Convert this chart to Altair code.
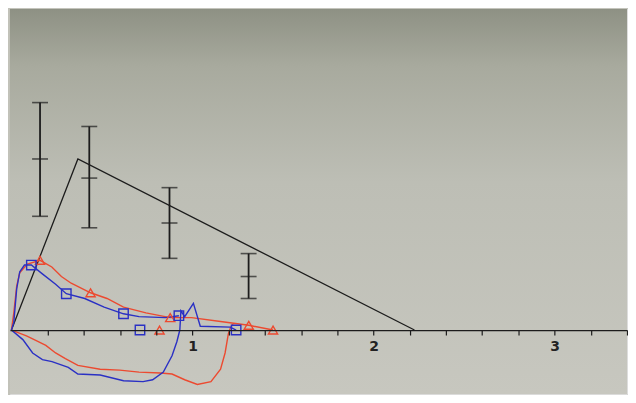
import altair as alt
import pandas as pd

# ---- data ----
# black model line
black_x = [0.0, 0.367, 2.226]
black_y = [0.0, 1.79, 0.0]

# error bars (x, low, mean, high)
eb_x = [0.158, 0.43, 0.873, 1.31]
eb_lo = [1.19, 1.07, 0.75, 0.33]
eb_mid = [1.79, 1.59, 1.12, 0.56]
eb_hi = [2.38, 2.13, 1.49, 0.80]

# red curve (loop)
red_x = [1.445, 1.311, 1.155, 0.995, 0.877, 0.743, 0.619, 0.528, 0.437, 0.33,
         0.276, 0.223, 0.158, 0.088, 0.046, 0.029, 0.013, 0.0,
         0.083, 0.137, 0.19, 0.244, 0.298, 0.367, 0.49, 0.598, 0.705, 0.823,
         0.887, 0.957, 1.027, 1.102, 1.155, 1.18, 1.198, 1.209, 1.225]
red_y = [0.0, 0.05, 0.09, 0.13, 0.13, 0.18, 0.24, 0.33, 0.39, 0.49,
         0.56, 0.66, 0.73, 0.69, 0.60, 0.46, 0.18, 0.0,
         -0.06, -0.11, -0.16, -0.24, -0.30, -0.37, -0.41, -0.42, -0.44, -0.45,
         -0.46, -0.52, -0.57, -0.54, -0.41, -0.24, -0.04, 0.02, 0.07]
red_mx = [0.158, 0.437, 0.818, 0.877, 1.311, 1.445]
red_my = [0.73, 0.39, 0.0, 0.13, 0.05, 0.0]

# blue curve (loop)
blue_x = [0.925, 0.85, 0.705, 0.619, 0.512, 0.405, 0.303, 0.244, 0.169, 0.11,
          0.072, 0.046, 0.029, 0.013, 0.0,
          0.063, 0.117, 0.171, 0.224, 0.314, 0.367, 0.49, 0.619, 0.727, 0.78,
          0.839, 0.887, 0.914, 0.93, 0.936, 0.957, 1.005, 1.043, 1.209, 1.241]
blue_y = [0.15, 0.13, 0.14, 0.17, 0.24, 0.33, 0.38, 0.48, 0.59, 0.68,
          0.68, 0.61, 0.43, 0.08, 0.0,
          -0.10, -0.24, -0.31, -0.33, -0.39, -0.46, -0.47, -0.53, -0.54, -0.52,
          -0.44, -0.27, -0.12, 0.0, 0.20, 0.14, 0.28, 0.04, 0.03, 0.0]
blue_mx = [0.11, 0.303, 0.619, 0.71, 0.925, 1.241]
blue_my = [0.68, 0.38, 0.17, 0.0, 0.15, 0.0]

tick_values = [0.2, 0.4, 0.6, 0.8, 1.0, 1.2, 1.4, 1.6, 1.8, 2.0, 2.2, 2.4,
               2.6, 2.8, 3.0, 3.2, 3.4]

X_DOM = [-0.008, 3.40]
Y_DOM = [-0.67, 3.36]
W, H = 620, 387

RED = "#ec4a30"
BLUE = "#2a30c4"
BLACK = "#1c1c1c"

xs = alt.Scale(domain=X_DOM, nice=False, zero=False)
ys = alt.Scale(domain=Y_DOM, nice=False, zero=False)

x_axis = alt.Axis(
    values=tick_values, title=None, grid=False, zindex=1,
    offset=-H * (-Y_DOM[0]) / (Y_DOM[1] - Y_DOM[0]),
    domainColor=BLACK, domainWidth=1.3, tickColor=BLACK, tickSize=5, tickWidth=1.2,
    labelExpr="datum.value % 1 == 0 ? format(datum.value, 'd') : ''",
    labelFont="DejaVu Sans", labelFontSize=14, labelFontWeight="bold",
    labelColor="#222222", labelPadding=5,
)

def X(field):
    return alt.X(field, scale=xs, axis=x_axis)

def Y(field):
    return alt.Y(field, scale=ys, axis=None)

bg = alt.Chart(pd.DataFrame({"a": [0]})).mark_rect(
    color=alt.LinearGradient(
        gradient="linear",
        stops=[alt.GradientStop(color="#8e9184", offset=0),
               alt.GradientStop(color="#a8aa9e", offset=0.15),
               alt.GradientStop(color="#bdbeb5", offset=0.45),
               alt.GradientStop(color="#c7c7bf", offset=1)],
        x1=0, x2=0, y1=0, y2=1,
    )
).encode(x=alt.value(0), x2=alt.value(W), y=alt.value(0), y2=alt.value(H))

def line_df(xv, yv):
    return pd.DataFrame({"x": xv, "y": yv, "i": list(range(len(xv)))})

def line_layer(df, color, width=1.4):
    return alt.Chart(df).mark_line(color=color, strokeWidth=width).encode(
        x=X("x:Q"), y=Y("y:Q"), order="i:Q",
    )

black = line_layer(line_df(black_x, black_y), BLACK, 1.3)
red = line_layer(line_df(red_x, red_y), RED, 1.4)
blue = line_layer(line_df(blue_x, blue_y), BLUE, 1.4)

eb = pd.DataFrame({"x": eb_x, "lo": eb_lo, "mid": eb_mid, "hi": eb_hi})
eb_rule = alt.Chart(eb).mark_rule(color=BLACK, strokeWidth=1.8).encode(
    x=X("x:Q"), y=Y("lo:Q"), y2="hi:Q")
caps = [alt.Chart(eb).mark_tick(color=BLACK, orient="horizontal", size=16,
                                thickness=1.6).encode(x=X("x:Q"), y=Y(f"{c}:Q"))
        for c in ["lo", "mid", "hi"]]

red_pts = alt.Chart(pd.DataFrame({"x": red_mx, "y": red_my})).mark_point(
    shape="triangle-up", size=85, filled=False, color=RED, strokeWidth=1.4, opacity=1
).encode(x=X("x:Q"), y=Y("y:Q"))
blue_pts = alt.Chart(pd.DataFrame({"x": blue_mx, "y": blue_my})).mark_point(
    shape="square", size=90, filled=False, color=BLUE, strokeWidth=1.4, opacity=1
).encode(x=X("x:Q"), y=Y("y:Q"))

chart = alt.layer(
    bg, black, red, blue, eb_rule, *caps, red_pts, blue_pts
).properties(width=W, height=H, padding=0).configure_view(
    stroke=None, clip=True
).configure(background="#c2c2b9")

chart.save("out.html", embed_options={"renderer": "svg", "actions": False})
